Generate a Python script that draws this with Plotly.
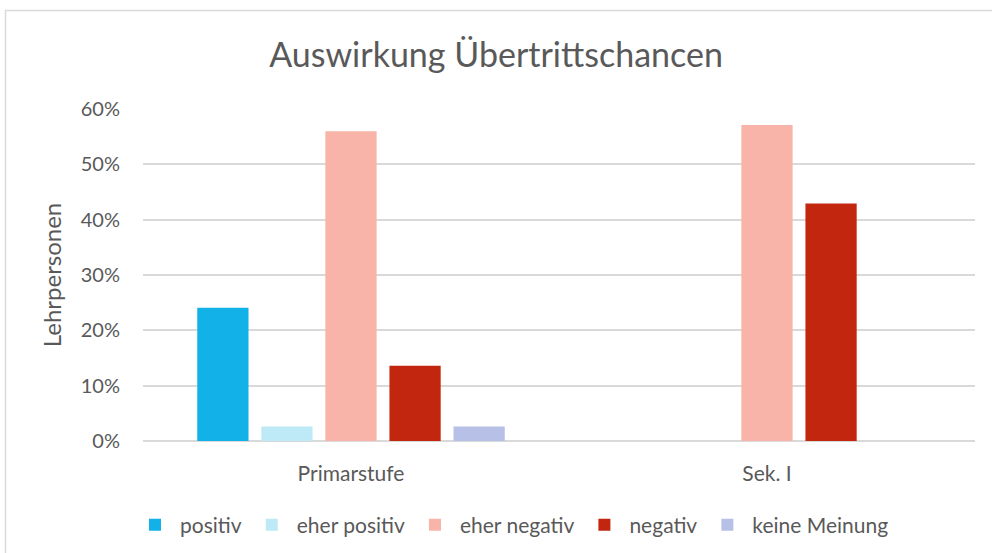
import plotly.graph_objects as go

categories = ["Primarstufe", "Sek. I"]
series_names = ["positiv", "eher positiv", "eher negativ", "negativ", "keine Meinung"]
positiv = [0.241, None]
eher_positiv = [0.026, None]
eher_negativ = [0.560, 0.571]
negativ = [0.136, 0.429]
keine_meinung = [0.026, None]
tick_vals = [0, 0.1, 0.2, 0.3, 0.4, 0.5, 0.6]
tick_text = ["0%", "10%", "20%", "30%", "40%", "50%", "60%"]

colors = ["#12B2E8", "#BEEAF8", "#F8B4A8", "#C3260E", "#B7C0E6"]
values = [positiv, eher_positiv, eher_negativ, negativ, keine_meinung]

font_family = "Lato, 'Open Sans', sans-serif"
txt = "#595959"

fig = go.Figure()
for name, vals, col in zip(series_names, values, colors):
    fig.add_trace(go.Bar(name=name, x=categories, y=vals, marker=dict(color=col, line=dict(width=0))))

W, H = 992, 553
L, R, T, B = 143, 17, 109, 112
pw, ph = W - L - R, H - T - B

def px(x):
    return (x - L) / pw

def py(y):
    return (H - B - y) / ph

fig.update_layout(
    width=W, height=H,
    margin=dict(l=L, r=R, t=T, b=B, autoexpand=False),
    paper_bgcolor="white", plot_bgcolor="white",
    barmode="group", bargap=0.23, bargroupgap=0.2,
    font=dict(family=font_family, color=txt, size=20),
    title=dict(text="Auswirkung Übertrittschancen", x=0.5, xanchor="center",
               y=1 - 55 / H, yanchor="middle",
               font=dict(size=34, family=font_family, color=txt)),
    xaxis=dict(showgrid=False, showline=False, ticks="", tickfont=dict(size=21, color=txt),
               ticklabelstandoff=18, automargin=False),
    yaxis=dict(range=[0, 0.6], tickvals=tick_vals, ticktext=tick_text,
               gridcolor="#D9D9D9", gridwidth=1.5, zeroline=True, zerolinecolor="#D9D9D9",
               zerolinewidth=1.5, showline=False, ticks="", ticklen=0,
               ticklabelstandoff=22, automargin=False,
               tickfont=dict(size=20, color=txt),
               title=dict(text="Lehrpersonen", font=dict(size=24, color=txt), standoff=12)),
    legend=dict(orientation="h", x=px(512), xanchor="center", y=py(525), yanchor="middle",
                font=dict(size=21, color=txt), itemwidth=40, traceorder="normal",
                itemclick=False),
    shapes=[dict(type="rect", xref="paper", yref="paper",
                 x0=px(5.5), x1=px(1000), y0=py(560), y1=py(10.5),
                 line=dict(color="#D9D9D9", width=1.5), fillcolor="rgba(0,0,0,0)", layer="below")],
)

fig.write_html("out.html", config={"displayModeBar": False},
               post_script="document.body.style.margin='0';document.body.style.overflow='hidden';")
